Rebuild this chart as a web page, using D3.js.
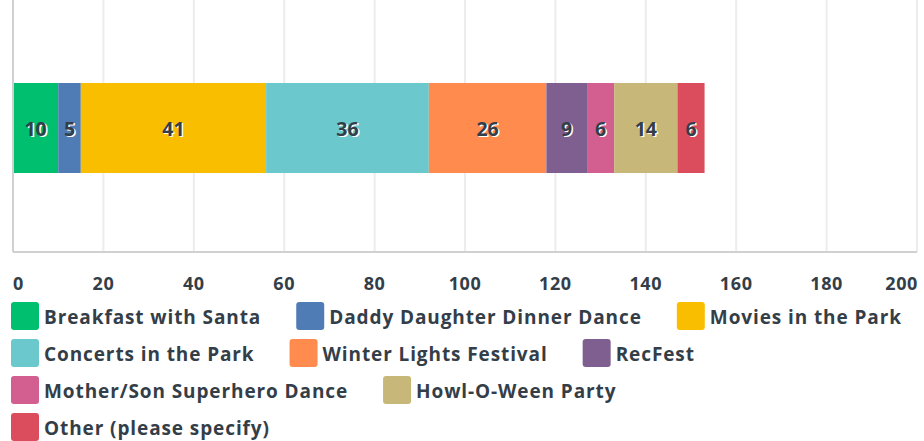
<!DOCTYPE html>
<html>
<head>
<meta charset="utf-8">
<script src="https://cdn.jsdelivr.net/npm/d3@7"></script>
<style>
  body { margin: 0; background: #fff; }
  text { font-family: "Open Sans", sans-serif; fill: #333e48; }
  .bar-label { font-weight: 700; font-size: 19.5px; }
  .tick-label { font-weight: 700; font-size: 18px; letter-spacing: 0.6px; }
  .legend-label { font-weight: 700; font-size: 19px; letter-spacing: 0.9px; }
</style>
</head>
<body>
<svg id="chart" width="924" height="441"></svg>
<script>
// data
const categories = [
  "Breakfast with Santa", "Daddy Daughter Dinner Dance", "Movies in the Park",
  "Concerts in the Park", "Winter Lights Festival", "RecFest",
  "Mother/Son Superhero Dance", "Howl-O-Ween Party", "Other (please specify)"
];
const values = [10, 5, 41, 36, 26, 9, 6, 14, 6];
const colors = ["#00bf6f", "#507cb6", "#f9be00", "#6bc8cd", "#ff8b4f",
                "#7f5f90", "#d25f90", "#c7b879", "#db4d5d"];
const ticks = [0, 20, 40, 60, 80, 100, 120, 140, 160, 180, 200];

const svg = d3.select('svg#chart');

// plot area
const plot = {left: 13, right: 917, top: 0, bottom: 252};

const x = d3.scaleLinear()
  .domain([0, 200])
  .range([plot.left, plot.right]);

const y = d3.scaleBand()
  .domain(["row"])
  .range([4, plot.bottom])
  .paddingOuter(0.878);

// stack values
let acc = 0;
const stacked = values.map((v, i) => {
  const d = {name: categories[i], value: v, x0: acc, x1: acc + v, color: colors[i]};
  acc += v;
  return d;
});

// gridlines
svg.append('g').selectAll('line')
  .data(ticks.slice(1))
  .enter().append('line')
    .attr('x1', d => x(d)).attr('x2', d => x(d))
    .attr('y1', plot.top).attr('y2', plot.bottom)
    .style('stroke', '#ececec')
    .style('stroke-width', 2);

// bars
svg.append('g').selectAll('rect')
  .data(stacked)
  .enter().append('rect')
    .attr('x', d => x(d.x0))
    .attr('y', y("row"))
    .attr('width', d => x(d.x1) - x(d.x0))
    .attr('height', y.bandwidth())
    .style('fill', d => d.color);

// axis lines
svg.append('line')
  .attr('x1', plot.left).attr('x2', plot.right)
  .attr('y1', plot.bottom).attr('y2', plot.bottom)
  .style('stroke', '#d0d0d0').style('stroke-width', 2);
svg.append('line')
  .attr('x1', plot.left).attr('x2', plot.left)
  .attr('y1', plot.top).attr('y2', plot.bottom)
  .style('stroke', '#d0d0d0').style('stroke-width', 2);

// bar labels, with white shadow
const labels = svg.append('g');
labels.selectAll('text.shadow')
  .data(stacked)
  .enter().append('text')
    .attr('class', 'bar-label shadow')
    .attr('x', d => (x(d.x0) + x(d.x1)) / 2 + 1.5)
    .attr('y', y("row") + y.bandwidth() / 2 + 1.5)
    .attr('text-anchor', 'middle')
    .attr('dominant-baseline', 'central')
    .style('fill', '#fff')
    .text(d => d.value);
labels.selectAll('text.val')
  .data(stacked)
  .enter().append('text')
    .attr('class', 'bar-label val')
    .attr('x', d => (x(d.x0) + x(d.x1)) / 2)
    .attr('y', y("row") + y.bandwidth() / 2)
    .attr('text-anchor', 'middle')
    .attr('dominant-baseline', 'central')
    .text(d => d.value);

// tick labels (ends kept inside the page)
svg.append('g').selectAll('text')
  .data(ticks)
  .enter().append('text')
    .attr('class', 'tick-label')
    .attr('x', d => d === 200 ? x(d) + 1 : x(d))
    .attr('y', 290)
    .attr('text-anchor', d => d === 0 ? 'start' : d === 200 ? 'end' : 'middle')
    .text(d => d);

// legend, flowing in rows
const legend = svg.append('g');
const lConfig = {x: 11, y: 302, swatch: 28, gap: 5, itemGap: 35, rowH: 37, maxX: 906};
let lx = lConfig.x, ly = lConfig.y;
categories.forEach((name, i) => {
  const g = legend.append('g');
  const t = g.append('text')
    .attr('class', 'legend-label')
    .attr('x', lConfig.swatch + lConfig.gap)
    .attr('y', lConfig.swatch / 2 + 1)
    .attr('dominant-baseline', 'central')
    .text(name);
  const w = lConfig.swatch + lConfig.gap + t.node().getComputedTextLength();
  if (lx + w > lConfig.maxX) {
    lx = lConfig.x;
    ly += lConfig.rowH;
  }
  g.append('rect')
    .attr('width', lConfig.swatch)
    .attr('height', lConfig.swatch)
    .attr('rx', 3)
    .style('fill', colors[i]);
  g.attr('transform', `translate(${lx}, ${ly})`);
  lx += w + lConfig.itemGap;
});
</script>
</body>
</html>
